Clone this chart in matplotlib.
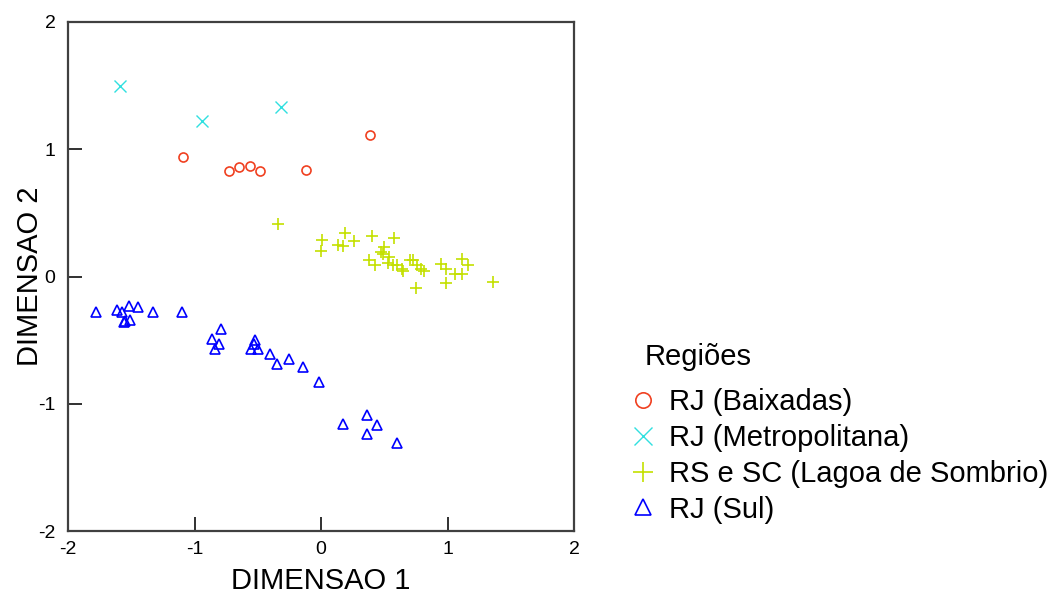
import matplotlib.pyplot as plt

plt.rcParams['font.family'] = ['Liberation Sans', 'DejaVu Sans']
plt.rcParams['axes.unicode_minus'] = False

# RJ (Baixadas)
baix_x = [-1.09, -0.73, -0.65, -0.56, -0.48, -0.12, 0.39]
baix_y = [0.94, 0.83, 0.86, 0.87, 0.83, 0.84, 1.11]

# RJ (Metropolitana)
metro_x = [-1.59, -0.94, -0.32]
metro_y = [1.50, 1.22, 1.33]

# RS e SC (Lagoa de Sombrio)
lagoa_x = [-0.34, 0.01, 0.00, 0.19, 0.13, 0.17, 0.26, 0.40, 0.58, 0.50, 0.47, 0.49,
           0.38, 0.43, 0.54, 0.53, 0.57, 0.60, 0.64, 0.65, 0.70, 0.73, 0.76, 0.79,
           0.81, 0.75, 0.95, 0.99, 0.99, 1.06, 1.11, 1.11, 1.16, 1.36]
lagoa_y = [0.41, 0.29, 0.20, 0.34, 0.25, 0.24, 0.28, 0.32, 0.30, 0.23, 0.19, 0.18,
           0.13, 0.09, 0.15, 0.11, 0.09, 0.09, 0.06, 0.04, 0.13, 0.13, 0.09, 0.06,
           0.04, -0.09, 0.10, 0.06, -0.05, 0.02, 0.14, 0.02, 0.09, -0.04]

# RJ (Sul)
sul_x = [-1.78, -1.61, -1.57, -1.52, -1.45, -1.55, -1.51, -1.56, -1.33, -1.10,
         -0.79, -0.86, -0.81, -0.84, -0.52, -0.53, -0.50, -0.55, -0.40, -0.35,
         -0.25, -0.14, -0.02, 0.17, 0.36, 0.44, 0.36, 0.60]
sul_y = [-0.28, -0.26, -0.28, -0.23, -0.24, -0.35, -0.34, -0.36, -0.28, -0.28,
         -0.41, -0.49, -0.53, -0.57, -0.50, -0.53, -0.57, -0.57, -0.61, -0.69,
         -0.65, -0.71, -0.83, -1.16, -1.09, -1.17, -1.24, -1.31]

fig = plt.figure(figsize=(10.61, 5.94), dpi=100)
ax = fig.add_axes([0.0641, 0.106, 0.4770, 0.857])

ax.plot(baix_x, baix_y, 'o', ls='none', mfc='none', mec='#f04020', ms=6.5, mew=1.2,
        label='RJ (Baixadas)')
ax.plot(metro_x, metro_y, 'x', ls='none', color='#30e0e0', ms=8, mew=1.0,
        label='RJ (Metropolitana)')
ax.plot(lagoa_x, lagoa_y, '+', ls='none', color='#c4e000', ms=8.5, mew=1.2,
        label='RS e SC (Lagoa de Sombrio)')
ax.plot(sul_x, sul_y, '^', ls='none', mfc='none', mec='#0000ff', ms=7, mew=1.2,
        label='RJ (Sul)')

ax.set_xlim(-2, 2)
ax.set_ylim(-2, 2)
ax.set_xticks([-2, -1, 0, 1, 2])
ax.set_yticks([-2, -1, 0, 1, 2])
ax.tick_params(direction='in', length=10, width=1.3, color='#202020', labelsize=14)
ax.tick_params(axis='y', pad=9)
ax.tick_params(axis='x', pad=7)
for s in ax.spines.values():
    s.set_color('#404040')
    s.set_linewidth(1.6)

ax.set_xlabel('DIMENSAO 1', fontsize=21, labelpad=7)
ax.set_ylabel('DIMENSAO 2', fontsize=21, labelpad=-4)

# legend title placed as separate text so it sits a bit right of the markers
fig.text(645 / 1061, 1 - 357 / 594, 'Regiões', fontsize=21, va='center', ha='left')
leg = fig.legend(loc='upper left', bbox_to_anchor=(0.595, 0.3468), frameon=False,
                 fontsize=21, markerscale=1.7,
                 handlelength=0.8, handletextpad=0.5, labelspacing=0.27,
                 borderpad=0, borderaxespad=0)

fig.savefig('out.png', dpi=100)
